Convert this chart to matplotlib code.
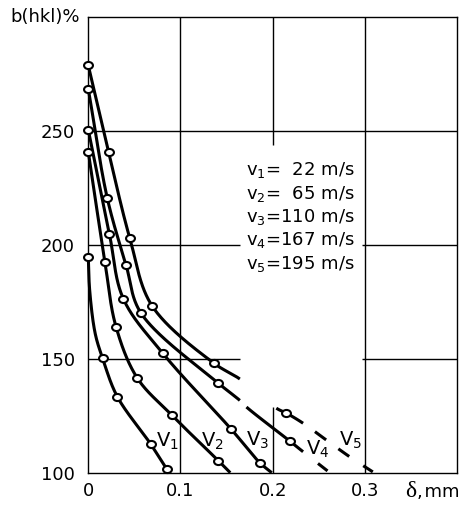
import numpy as np
import matplotlib
matplotlib.use("Agg")
import matplotlib.pyplot as plt
from matplotlib.path import Path
from matplotlib.markers import MarkerStyle
from matplotlib.transforms import Affine2D

plt.rcParams['font.family'] = ['DejaVu Sans']
plt.rcParams['mathtext.fontset'] = 'dejavusans'

# measured points: delta (mm) vs b(hkl) (%)
v1_x = [0, 0.0156, 0.0314, 0.0676, 0.085]
v1_y = [194.7, 150.1, 133.4, 112.6, 101.6]
v2_x = [0, 0.018, 0.030, 0.053, 0.091, 0.141]
v2_y = [240.7, 192.5, 164.1, 141.6, 125.1, 105.3]
v3_x = [0, 0.0228, 0.038, 0.081, 0.155, 0.186]
v3_y = [250.4, 204.9, 176.3, 152.3, 119.1, 104.4]
v4_x = [0, 0.0206, 0.041, 0.057, 0.141, 0.2185]
v4_y = [268.3, 220.4, 191.0, 170.1, 139.3, 113.9]
v5_x = [0, 0.022, 0.045, 0.069, 0.136, 0.215]
v5_y = [278.6, 240.6, 202.9, 173.3, 148.1, 126.1]

# extra points along the drawn curves (not marked)
v1_line_x = [0, 0.0015, 0.0075, 0.0156, 0.0314, 0.0676, 0.085, 0.088]
v1_line_y = [194.7, 180.0, 161.0, 150.1, 133.4, 112.6, 101.6, 100.0]
v2_line_x = v2_x + [0.154]
v2_line_y = v2_y + [100.0]
v3_line_x = v3_x + [0.199]
v3_line_y = v3_y + [100.0]
v4_line_x = [0, 0.0206, 0.041, 0.057, 0.141, 0.1644, 0.1716, 0.2185, 0.233, 0.262]
v4_line_y = [268.3, 220.4, 191.0, 170.1, 139.3, 131.7, 128.8, 113.9, 109.2, 100.0]
v5_line_x = [0, 0.022, 0.045, 0.069, 0.136, 0.1644, 0.204, 0.215, 0.233, 0.258, 0.2835, 0.31]
v5_line_y = [278.6, 240.6, 202.9, 173.3, 148.1, 141.1, 128.3, 126.1, 121.7, 114.4, 107.0, 100.0]

# visible pieces of each curve (x ranges); the rest is broken / dashed
v4_pieces = [(0, 0.1644), (0.1716, 0.233), (0.249, 0.26)]
v5_pieces = [(0, 0.1644), (0.204, 0.233), (0.2457, 0.258), (0.271, 0.2835), (0.298, 0.309)]

speeds = ['22', '65', '110', '167', '195']

SX, SY = 923.0, 2.274  # roughly pixels per unit, for smoothing


def smooth(xs, ys, n=60):
    # centripetal catmull-rom through the points
    p = np.column_stack([np.asarray(xs) * SX, np.asarray(ys) * SY])
    p = np.vstack([2 * p[0] - p[1], p, 2 * p[-1] - p[-2]])
    out = []
    for i in range(1, len(p) - 2):
        p0, p1, p2, p3 = p[i - 1], p[i], p[i + 1], p[i + 2]
        t0 = 0.0
        t1 = t0 + np.linalg.norm(p1 - p0) ** 0.5
        t2 = t1 + np.linalg.norm(p2 - p1) ** 0.5
        t3 = t2 + np.linalg.norm(p3 - p2) ** 0.5
        t = np.linspace(t1, t2, n)[:, None]
        a1 = (t1 - t) / (t1 - t0) * p0 + (t - t0) / (t1 - t0) * p1
        a2 = (t2 - t) / (t2 - t1) * p1 + (t - t1) / (t2 - t1) * p2
        a3 = (t3 - t) / (t3 - t2) * p2 + (t - t2) / (t3 - t2) * p3
        b1 = (t2 - t) / (t2 - t0) * a1 + (t - t0) / (t2 - t0) * a2
        b2 = (t3 - t) / (t3 - t1) * a2 + (t - t1) / (t3 - t1) * a3
        c = (t2 - t) / (t2 - t1) * b1 + (t - t1) / (t2 - t1) * b2
        out.append(c if i == len(p) - 3 else c[:-1])
    c = np.vstack(out)
    return c[:, 0] / SX, c[:, 1] / SY


fig = plt.figure(figsize=(4.67, 5.05), dpi=100)
ax = fig.add_axes([88.3 / 467, 1 - 472.7 / 505, 368.7 / 467, 456 / 505])
ax.set_xlim(0, 0.4)
ax.set_ylim(100, 300)

# grid (partly broken around the legend text)
gkw = dict(color='black', lw=1.0, zorder=1)
ax.vlines(0.1, 100, 300, **gkw)
ax.vlines(0.2, 243.8, 300, **gkw)
ax.vlines(0.2, 100, 129.0, **gkw)
ax.vlines(0.3, 100, 300, **gkw)
ax.hlines(250, 0, 0.4, **gkw)
for yy in (200, 150):
    ax.hlines(yy, 0, 0.1644, **gkw)
    ax.hlines(yy, 0.2972, 0.4, **gkw)

ell = Path.unit_circle().transformed(Affine2D().scale(1.25, 1.0))
mk = MarkerStyle(ell)
lkw = dict(color='black', lw=2.2, solid_capstyle='butt', clip_on=False, zorder=3)

curves = [
    (v1_line_x, v1_line_y, v1_x, v1_y, None),
    (v2_line_x, v2_line_y, v2_x, v2_y, None),
    (v3_line_x, v3_line_y, v3_x, v3_y, None),
    (v4_line_x, v4_line_y, v4_x, v4_y, v4_pieces),
    (v5_line_x, v5_line_y, v5_x, v5_y, v5_pieces),
]
for lx, ly, mx, my, pieces in curves:
    sx, sy = smooth(lx, ly)
    if pieces is None:
        ax.plot(sx, sy, **lkw)
    else:
        for a, b in pieces:
            m = (sx >= a) & (sx <= b)
            ax.plot(sx[m], sy[m], **lkw)
    ax.plot(mx, my, ls='none', marker=mk, ms=6.4, mfc='white', mec='black',
            mew=1.5, clip_on=False, zorder=4)

# curve labels
label_pos = [(0.0733, 111.4), (0.1228, 111.4), (0.1716, 111.7), (0.2359, 107.8), (0.272, 111.7)]
for i, (lx, ly) in enumerate(label_pos):
    ax.text(lx, ly, r'$\mathregular{V_%d}$' % (i + 1), fontsize=14, va='baseline', ha='left')

# speeds
for i, s in enumerate(speeds):
    gap = '  ' if len(s) == 2 else ''
    ax.text(0.1716, 230.5 - i * 10.25, r'$\mathregular{v_%d}$=%s%s m/s' % (i + 1, gap, s),
            fontsize=13, va='baseline', ha='left')

ax.set_xticks([0, 0.1, 0.2, 0.3])
ax.set_xticklabels(['0', '0.1', '0.2', '0.3'])
ax.set_yticks([100, 150, 200, 250])
ax.set_yticklabels(['100', '150', '200', '250'])
ax.tick_params(axis='x', length=0, pad=7, labelsize=13)
ax.tick_params(axis='y', length=0, pad=9.5, labelsize=13)
for sp in ax.spines.values():
    sp.set_linewidth(1.0)

ax.text(0.859, -0.0525, 'δ', transform=ax.transAxes, fontsize=17,
        family='Liberation Serif', va='baseline', ha='left')
ax.text(0.8915, -0.0525, ',\u200amm', transform=ax.transAxes, fontsize=13,
        va='baseline', ha='left')
fig.text(10 / 467, 1 - 21.7 / 505, 'b(hkl)%', fontsize=13, va='baseline', ha='left')

fig.savefig('out.png', dpi=100)
